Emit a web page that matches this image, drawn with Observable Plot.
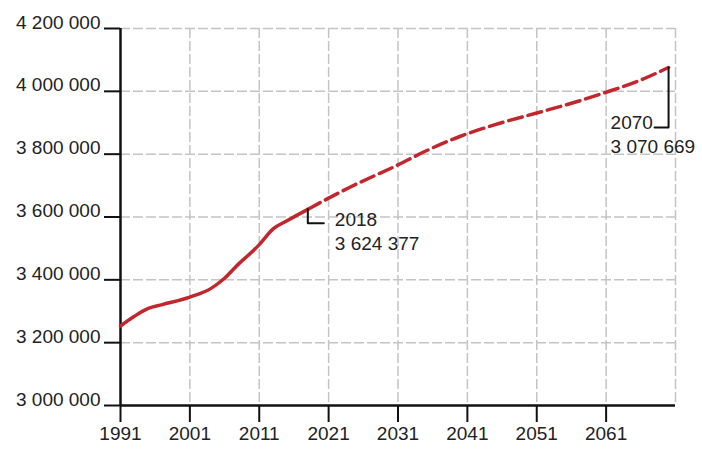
<!DOCTYPE html>
<html>
<head>
<meta charset="utf-8">
<script src="https://cdn.jsdelivr.net/npm/d3@7"></script>
<script src="https://cdn.jsdelivr.net/npm/@observablehq/plot@0.6"></script>
<style>
  html, body { margin: 0; padding: 0; background: #fff; }
  #chart { width: 702px; height: 450px; }
</style>
</head>
<body>
<div id="chart"></div>
<script>
// ---- data ----
const years  = [1991, 1993, 1995, 1997, 2001, 2004, 2006, 2008, 2010, 2011, 2013, 2015, 2018,
                2021, 2024, 2031, 2035, 2040, 2045, 2051, 2056, 2061, 2066, 2070];
const values = [3253000, 3284000, 3309000, 3321000, 3345000, 3372000, 3405000, 3450000, 3490000, 3512000, 3562000, 3588000, 3624377,
                3660000, 3694000, 3766000, 3810000, 3857000, 3894000, 3931000, 3962000, 3997000, 4036000, 4076000];
const projectionStart = 2018;
const xTicks = [1991, 2001, 2011, 2021, 2031, 2041, 2051, 2061];
const yTicks = [3000000, 3200000, 3400000, 3600000, 3800000, 4000000, 4200000];
const annYears  = [2018, 2070];
const annLabels = ["2018\n3 624 377", "2070\n3 070 669"];

const data = years.map((y, i) => ({year: y, value: values[i]}));
const observed  = data.filter(d => d.year <= projectionStart);
const projected = data.filter(d => d.year >= projectionStart);
const ann = annYears.map((y, i) => ({year: y, value: values[years.indexOf(y)], label: annLabels[i]}));

const fmt = d => d3.format(",")(d).replace(/,/g, " ");
const FONT = "Liberation Sans, Arial, Helvetica, sans-serif";
const perPxY = 1200000 / 377;   // data units per pixel (y)
const perPxX = 80 / 555;        // years per pixel (x)

// bracket paths (in data units, derived from annotations)
const b2018 = [
  {x: ann[0].year, y: ann[0].value},
  {x: ann[0].year, y: ann[0].value - 14 * perPxY},
  {x: ann[0].year + 16 * perPxX, y: ann[0].value - 14 * perPxY}
];
const b2070 = [
  {x: ann[1].year, y: ann[1].value},
  {x: ann[1].year, y: ann[1].value - 60 * perPxY},
  {x: ann[1].year - 14 * perPxX, y: ann[1].value - 60 * perPxY}
];

const chart = Plot.plot({
  width: 702,
  height: 450,
  marginLeft: 120,
  marginRight: 27,
  marginTop: 28,
  marginBottom: 45,
  style: {fontFamily: FONT, fontSize: "19px", color: "#222", background: "#fff"},
  x: {domain: [1991, 2071]},
  y: {domain: [3000000, 4200000]},
  marks: [
    Plot.gridX([...xTicks.slice(1), 2071], {stroke: "#c4c4c4", strokeOpacity: 1, strokeWidth: 1.5, strokeDasharray: "10,3"}),
    Plot.gridY(yTicks.slice(1), {stroke: "#c4c4c4", strokeOpacity: 1, strokeWidth: 1.5, strokeDasharray: "10,3"}),
    Plot.axisX(xTicks, {tickSize: 17, tickPadding: 4, tickFormat: d => String(d), stroke: "#111", strokeWidth: 2, fill: "#222", fontSize: 19, label: null}),
    // y tick marks (no text)
    Plot.axisY(yTicks, {tickSize: 16, tickFormat: () => "", stroke: "#111", strokeWidth: 2, label: null}),
    // y tick labels, lifted above their ticks
    Plot.axisY(yTicks, {tickSize: 0, tickPadding: 20, tickFormat: fmt, fill: "#222", fontSize: 19, dy: -6, label: null}),
    Plot.ruleX([1991], {stroke: "#111", strokeWidth: 2.5}),
    Plot.ruleY([3000000], {stroke: "#111", strokeWidth: 2.5}),
    Plot.line(observed, {x: "year", y: "value", curve: "monotone-x", stroke: "#c1272d", strokeWidth: 3.5}),
    Plot.line(projected, {x: "year", y: "value", curve: "monotone-x", stroke: "#c1272d", strokeWidth: 3.5, strokeDasharray: "14,6"}),
    Plot.line(b2018, {x: "x", y: "y", stroke: "#111", strokeWidth: 2}),
    Plot.line(b2070, {x: "x", y: "y", stroke: "#111", strokeWidth: 2}),
    Plot.text([ann[0]], {x: "year", y: "value", text: "label", textAnchor: "start", lineAnchor: "middle", lineHeight: 1.27, dx: 27, dy: 21, fontSize: 19, fill: "#222"}),
    Plot.text([ann[1]], {x: "year", y: "value", text: "label", textAnchor: "start", lineAnchor: "middle", lineHeight: 1.27, dx: -58, dy: 66, fontSize: 19, fill: "#222"})
  ]
});
document.getElementById("chart").appendChild(chart);
</script>
</body>
</html>
